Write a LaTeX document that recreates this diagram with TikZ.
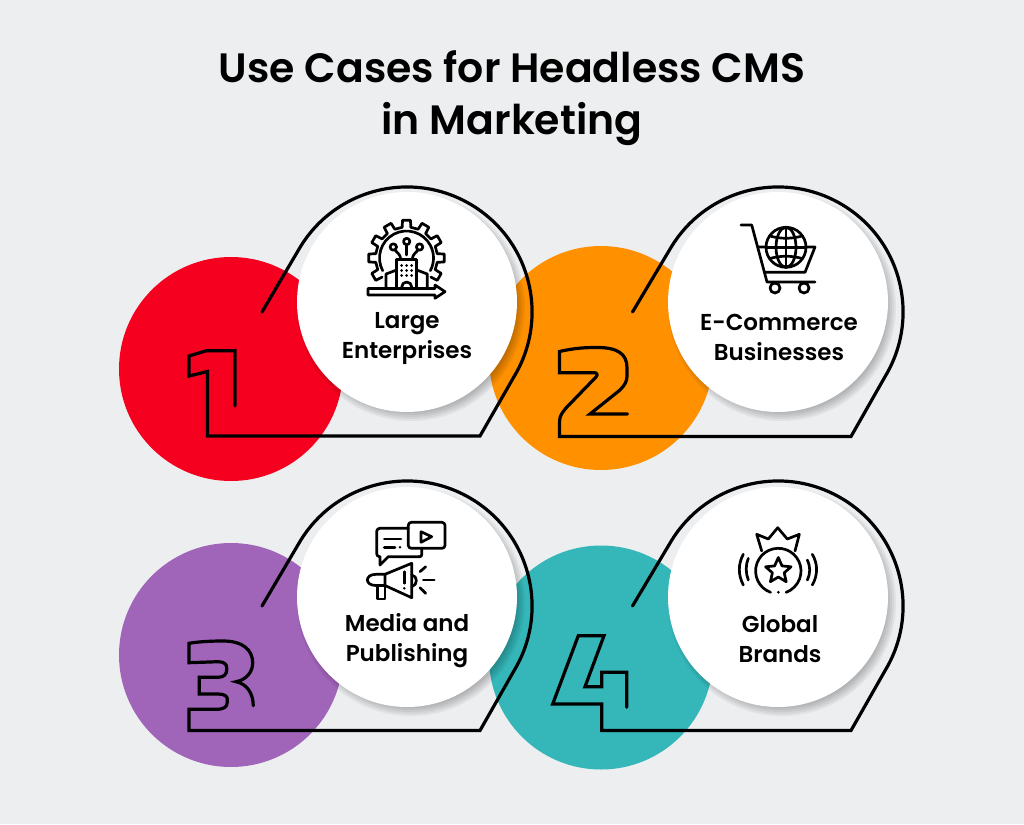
\documentclass[tikz,border=0pt]{standalone}
\usepackage{fontspec}
\setmainfont{Poppins}[BoldFont=* SemiBold]
\begin{document}
\begin{tikzpicture}[x=1pt,y=-1pt]

\definecolor{paper}{HTML}{ECEEF0}
\definecolor{redone}{HTML}{F5001E}
\definecolor{orangetwo}{HTML}{FF9100}
\definecolor{purplethree}{HTML}{A064B9}
\definecolor{tealfour}{HTML}{35B7BA}

\tikzset{disc/.style = {shape=circle,minimum size=224pt,inner sep=0pt}}
\tikzset{card/.style = {shape=circle,fill=white,minimum size=220pt,inner sep=0pt}}
\tikzset{frame/.style = {line width=3.2pt,line cap=round,line join=miter}}
\tikzset{glyph/.style = {line width=2.7pt,line cap=round,line join=round}}
\tikzset{caption/.style = {align=center,font=\fontsize{23}{30}\selectfont\bfseries}}

\useasboundingbox (0,0) rectangle (1024,824);
\fill[paper] (0,0) rectangle (1024,824);
\node[align=center,font=\fontsize{41}{52}\selectfont\bfseries] (title) at (512,98) {Use Cases for Headless CMS\\in Marketing};

%discs
\node[disc,fill=redone] (disc1) at (231,369) {};
\node[disc,fill=orangetwo] (disc2) at (601,358) {};
\node[disc,fill=purplethree] (disc3) at (231,655) {};
\node[disc,fill=tealfour] (disc4) at (601,657.5) {};

%shadows
\foreach \cx/\cy in {407/302,778/302,407/597,778/597}
  \foreach \r in {102,104,...,114}
    \fill[black,opacity=.05] (\cx+4,\cy+5) circle (\r);

%cards
\node[card] (card1) at (407,302) {};
\node[card] (card2) at (778,302) {};
\node[card] (card3) at (407,597) {};
\node[card] (card4) at (778,597) {};

%frames with their digits
\draw[frame] (262,312) -- (299.9,247.6) arc[start angle=211,end angle=391,radius=125] -- (480,436) -- (207.5,436)
  -- (207.5,371.5) -- (189,376) -- (189,356) -- (206.5,350.7) -- (235,350.7) -- (235,406);
\draw[frame] (632.5,312) -- (670.9,247.6) arc[start angle=211,end angle=391,radius=125] -- (851,436.5) -- (559.5,436.5)
  -- (559.5,422) .. controls (559.5,416) and (562,413) .. (566,408) -- (596,377) .. controls (598,374.5) and (597,372.7) .. (594,372.7)
  -- (559.5,372.7) -- (559.5,351.5) .. controls (575,348) and (585,347.5) .. (597,347.5)
  .. controls (618,347.5) and (627,354) .. (627,368) -- (627,376) .. controls (627,381) and (625,385) .. (620,390)
  -- (590,414) -- (627.5,414);
\draw[frame] (262,606) -- (299.9,541.6) arc[start angle=211,end angle=391,radius=125] -- (480,730.5) -- (189,730.5)
  -- (189,709.3) -- (216,709.3) .. controls (224,709.3) and (227.3,707) .. (227.3,702) -- (227.3,699)
  .. controls (227.3,696) and (224,694) .. (218,694) -- (199.3,694) -- (199.3,677.3) -- (218,677.3)
  .. controls (224,677.3) and (226.7,674) .. (226.7,670) -- (226.7,668) .. controls (226.7,664) and (224,661.7) .. (218,661.7)
  -- (189,662.7) -- (189,643.3) .. controls (200,641.5) and (212,641) .. (223,641)
  .. controls (243,641) and (252.7,650) .. (252.7,663) .. controls (252.7,672) and (246,680) .. (236,681.7)
  .. controls (247,684) and (253,693) .. (253.3,705.7);
\draw[frame] (632.5,606) -- (670.9,541.6) arc[start angle=211,end angle=391,radius=125] -- (851,730.5) -- (601.7,730.5)
  -- (601.7,704) -- (552.7,704) -- (578.3,635.7) -- (604,635.7) -- (585,686.7) -- (601.7,686.7) -- (601.7,672.3)
  -- (626.7,672.3) -- (626.7,707.3);

%gear icon
\begin{scope}[shift={(406.5,258)}]
\draw[glyph] (142:31) \foreach \a in {150,180,...,390} { -- (\a-8:31) -- (\a-6:38) -- (\a+6:38) -- (\a+8:31) } -- (398:31);
\draw[glyph] (0,0) ++(152:27) arc[start angle=152,end angle=388,radius=27];
\end{scope}
\draw[glyph] (396.7,287) -- (396.7,259.3) -- (416.7,259.3) -- (416.7,287);
\draw[glyph] (386,287) -- (386,274) -- (396.7,270);
\draw[glyph] (427.3,287) -- (427.3,274) -- (416.7,270);
\draw[glyph] (401.7,287) arc[start angle=180,end angle=360,radius=5];
\foreach \wx in {401.7,406.7,411.7}
  \foreach \wy in {265.5,270.5,275.5}
    \fill (\wx,\wy) circle (1.5);
\draw[glyph] (406.7,255) -- (406.7,245);
\draw[glyph] (406.7,241.5) circle (3.2);
\draw[glyph] (393.3,247) circle (3.2);
\draw[glyph] (419.6,247) circle (3.2);
\draw[glyph] (395,250) .. controls (397,253) and (400,254) .. (400.5,258);
\draw[glyph] (418,250) .. controls (416,253) and (413,254) .. (412.5,258);
\draw[glyph] (368,288.5) -- (435,288.5) -- (435,285) -- (445,291.7) -- (435,298.3) -- (435,295) -- (368,295) -- cycle;

%cart icon
\draw[glyph] (741,225) -- (751.7,225) -- (767,282) -- (815,282);
\draw[glyph] (758,247) -- (815,247) -- (805,272.3) -- (765,272.3);
\draw[glyph] (775,288) circle (5);
\draw[glyph] (804,288) circle (5);
\fill[white] (786,247.3) circle (20);
\draw[glyph] (786,247.3) circle (20);
\draw[glyph] (786,247.3) ellipse (10 and 20);
\draw[glyph] (786,227.3) -- (786,267.3);
\draw[glyph] (766,247.3) -- (806,247.3);
\draw[glyph] (770,236) .. controls (780,239) and (792,239) .. (802,236);
\draw[glyph] (770,258.5) .. controls (780,255.5) and (792,255.5) .. (802,258.5);

%media icon
\draw[glyph,rounded corners=3] (408.3,522.3) rectangle (445,548.3);
\draw[glyph] (421,531.7) -- (431.7,536.7) -- (421,542.3) -- cycle;
\draw[glyph,rounded corners=3] (408.3,528.3) -- (376.7,528.3) -- (376.7,556.7) -- (380,556.7);
\draw[glyph] (380,556.7) -- (380,565) -- (388.3,556.7) -- (419,556.7);
\draw[glyph,rounded corners=2] (419,556.7) -- (421.7,556.7) -- (421.7,548.3);
\draw[glyph] (384.3,539) -- (401,539);
\draw[glyph] (384.3,547.3) -- (395,547.3);
\fill (400,547.3) circle (1.4);
\draw[glyph] (385,574.3) -- (411.7,563.3) -- (411.7,597.7) -- (385,585.5) -- cycle;
\draw[glyph] (385,574.3) -- (376,574.3) .. controls (364.5,574.3) and (364.5,585.5) .. (376,585.5) -- (385,585.5);
\draw[glyph] (377.7,585.5) -- (377.7,599) -- (385,599) -- (385,586);
\draw[glyph] (404.3,571.7) -- (404.3,583.3);
\fill (404.3,588.3) circle (1.4);
\draw[glyph] (411.7,575) .. controls (418,576) and (418,585) .. (411.7,586.7);
\draw[glyph] (420,571.7) -- (425.7,566.7);
\draw[glyph] (423.3,580) -- (434.3,580);
\draw[glyph] (420,587.7) -- (425.7,593.3);

%brand icon
\draw[glyph] (761.7,551) -- (756.7,534.3) -- (768.3,539) -- (777.7,527.7) -- (787.3,539) -- (799.3,534.3) -- (795,551);
\draw[glyph] (778.3,571) ++(110:22.7) arc[start angle=110,end angle=430,radius=22.7];
\fill (778.3,592.3) circle (1.5);
\draw[glyph] (778.3,557.5) -- (782,565.9) -- (791,566.8) -- (784.2,572.8) -- (786.2,581.7) -- (778.3,577) -- (770.4,581.7) -- (772.4,572.8) -- (765.6,566.8) -- (774.6,565.9) -- cycle;
\draw[glyph] (748.3,558.3) .. controls (745.5,565) and (745.5,573) .. (748.3,580);
\draw[glyph] (743.3,554.3) .. controls (738,564) and (738,575) .. (743.3,585);
\draw[glyph] (807.3,560) .. controls (810.5,567) and (810.5,573) .. (807.3,580);
\draw[glyph] (812.3,554.3) .. controls (818,564) and (818,575) .. (812.3,585);

%labels
\node[caption] (label1) at (407,339) {Large\\Enterprises};
\node[caption] (label2) at (779,337) {E-Commerce\\Businesses};
\node[caption] (label3) at (407,641) {Media and\\Publishing};
\node[caption] (label4) at (780,639) {Global\\Brands};

\end{tikzpicture}
\end{document}
